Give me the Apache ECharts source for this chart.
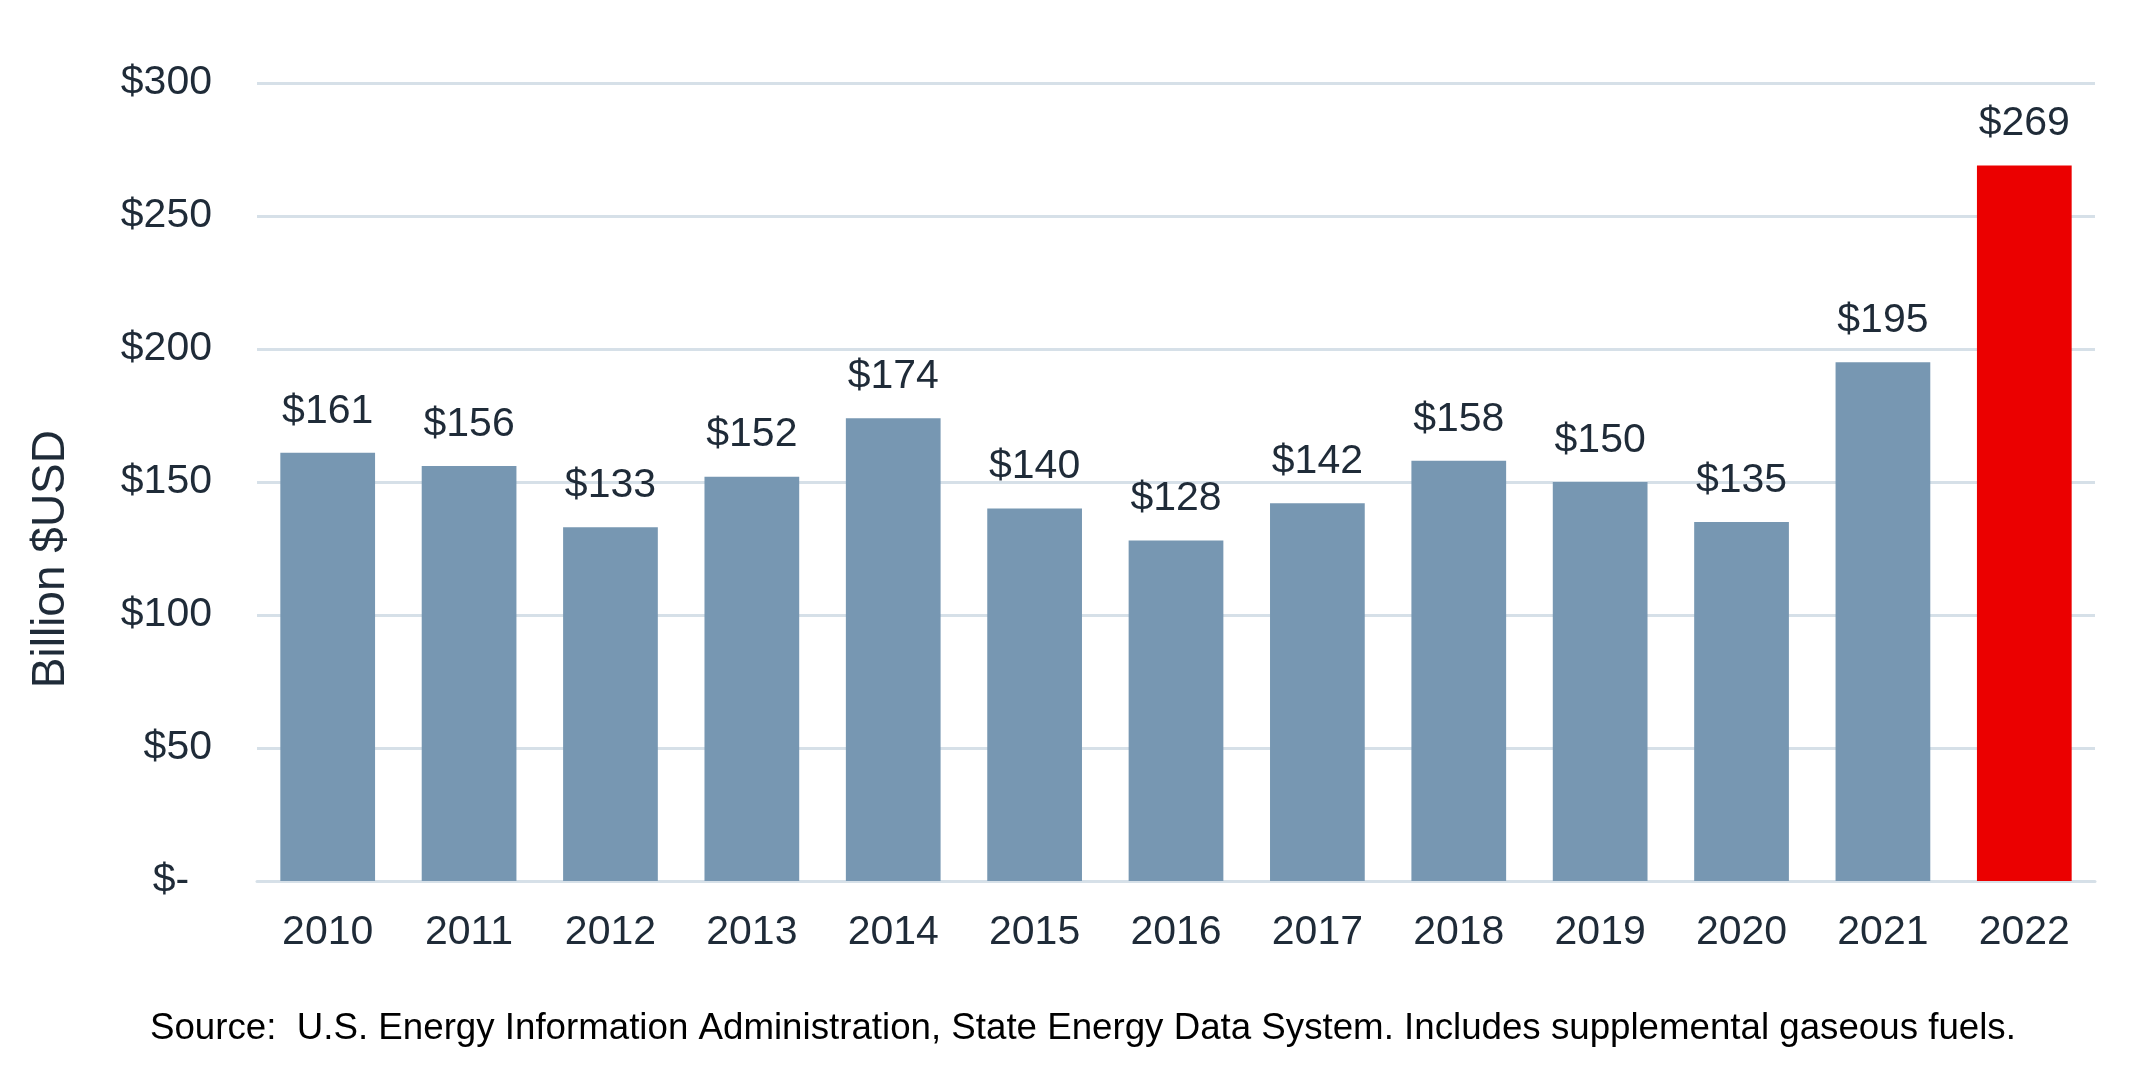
<!DOCTYPE html>
<html>
<head>
<meta charset="utf-8">
<script src="https://cdn.jsdelivr.net/npm/echarts@6/dist/echarts.min.js"></script>
<style>
html,body{margin:0;padding:0;background:#fff;}
#chart{width:2145px;height:1081px;}
</style>
</head>
<body>
<div id="chart"></div>
<script>
const years = ['2010','2011','2012','2013','2014','2015','2016','2017','2018','2019','2020','2021','2022'];
const spending = [161,156,133,152,174,140,128,142,158,150,135,195,269];
const highlightYear = '2022';
const yTicks = [0,50,100,150,200,250,300];
const yAxisTitle = 'Billion $USD';
const sourceNote = 'Source:  U.S. Energy Information Administration, State Energy Data System. Includes supplemental gaseous fuels.';

const FONT = '"Liberation Sans", Arial, sans-serif';
const TXT = '#1f2b38';

const chart = echarts.init(document.getElementById('chart'), null, {renderer:'canvas'});
chart.setOption({
  backgroundColor:'#ffffff',
  animation:false,
  grid:{left:257,right:50,top:83,bottom:200,containLabel:false},
  xAxis:{
    type:'category',
    data:years,
    axisLine:{show:true,lineStyle:{color:'#d6e0e8',width:3}},
    axisTick:{show:false},
    axisLabel:{color:TXT,fontSize:41,fontFamily:FONT,margin:31}
  },
  yAxis:{
    type:'value',
    min:yTicks[0],
    max:yTicks[yTicks.length-1],
    interval:yTicks[1]-yTicks[0],
    axisLine:{show:false},
    axisTick:{show:false},
    splitLine:{show:true,lineStyle:{color:'#d6e0e8',width:3}},
    axisLabel:{
      color:TXT,fontSize:41,fontFamily:FONT,margin:45,
      formatter:function(v){return v===0?'$-  ':'$'+v;}
    }
  },
  graphic:[
    {type:'text',left:28,top:430,rotation:Math.PI/2,
     style:{text:yAxisTitle,fill:TXT,font:'46px '+FONT}},
    {type:'text',left:150,top:1010,
     style:{text:sourceNote,fill:'#000000',font:'36.7px '+FONT}}
  ],
  series:[{
    type:'bar',
    barCategoryGap:'33%',
    data:spending.map(function(v,i){
      return {value:v,itemStyle:{color:years[i]===highlightYear?'#eb0000':'#7797b2'}};
    }),
    label:{
      show:true,position:'top',distance:21,
      color:TXT,fontSize:41,fontFamily:FONT,
      formatter:function(p){return '$'+p.value;}
    }
  }]
});
</script>
</body>
</html>
